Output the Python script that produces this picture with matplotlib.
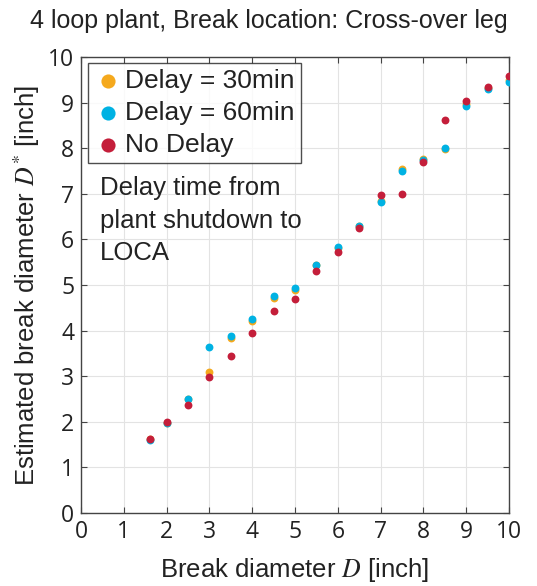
import numpy as np
import matplotlib
matplotlib.use('Agg')
import matplotlib.pyplot as plt

plt.rcParams['font.family'] = ['Liberation Sans', 'DejaVu Sans']
plt.rcParams['mathtext.fontset'] = 'stix'

# break diameters [inch]
D = [1.6, 2.0, 2.5, 3.0, 3.5, 4.0, 4.5, 5.0, 5.5, 6.0, 6.5, 7.0, 7.5, 8.0, 8.5, 9.0, 9.5, 10.0]

# estimated diameters
d30 = [1.62, 1.98, 2.50, 3.10, 3.84, 4.21, 4.71, 4.90, 5.43, 5.82, 6.29, 6.84, 7.55, 7.76, 7.98, 8.97, 9.32, 9.50]
d60 = [1.59, 1.97, 2.49, 3.63, 3.89, 4.25, 4.75, 4.93, 5.45, 5.84, 6.29, 6.82, 7.51, 7.74, 8.00, 8.92, 9.29, 9.45]
d0 = [1.62, 1.99, 2.36, 2.98, 3.44, 3.95, 4.42, 4.70, 5.31, 5.72, 6.26, 6.97, 7.00, 7.69, 8.62, 9.03, 9.35, 9.58]

c_orange = '#F5A91D'
c_blue = '#00B2E3'
c_red = '#C41E3A'

fig = plt.figure(figsize=(5.37, 5.86), dpi=100)
ax = fig.add_axes([0.151, 0.1246, 0.797, 0.778])

ms = 32
ax.scatter(D, d30, s=ms, color=c_orange, label='Delay = 30min', zorder=3, linewidths=0)
ax.scatter(D, d60, s=ms, color=c_blue, label='Delay = 60min', zorder=3, linewidths=0)
ax.scatter(D, d0, s=ms, color=c_red, label='No Delay', zorder=3, linewidths=0)

ax.set_xlim(0, 10)
ax.set_ylim(0, 10)
ax.set_xticks(range(0, 11))
ax.set_yticks(range(0, 11))
ax.grid(True, color='#e3e3e3', linewidth=0.8)
ax.set_axisbelow(True)
ax.tick_params(direction='in', top=True, right=True, length=4, color='#444444',
               labelsize=16.5, pad=5)
for lab in ax.get_xticklabels() + ax.get_yticklabels():
    lab.set_fontfamily('Open Sans')
    lab.set_color('#222222')
for sp in ax.spines.values():
    sp.set_color('#444444')
    sp.set_linewidth(1.0)

ax.set_xlabel('Break diameter $D$ [inch]', fontsize=18.5, color='#222222', labelpad=9)
ax.set_ylabel('Estimated break diameter $D^{*}$ [inch]', fontsize=18.5, color='#222222', labelpad=4)

fig.text(0.5, 0.965, '4 loop plant, Break location: Cross-over leg', ha='center', va='center',
         fontsize=18, color='#222222')

leg = ax.legend(loc='upper left', bbox_to_anchor=(0.016, 0.986), fontsize=19, markerscale=1.8,
                frameon=True, fancybox=False, edgecolor='#222222', handletextpad=0.1,
                borderpad=0.22, labelspacing=0.3, handlelength=1.1, borderaxespad=0)
leg.get_frame().set_linewidth(1.0)
for t in leg.get_texts():
    t.set_color('#222222')

ax.text(0.045, 0.74, 'Delay time from\nplant shutdown to\nLOCA', transform=ax.transAxes,
        ha='left', va='top', fontsize=18.5, color='#222222', linespacing=1.47)

plt.savefig('out.png', dpi=100)
